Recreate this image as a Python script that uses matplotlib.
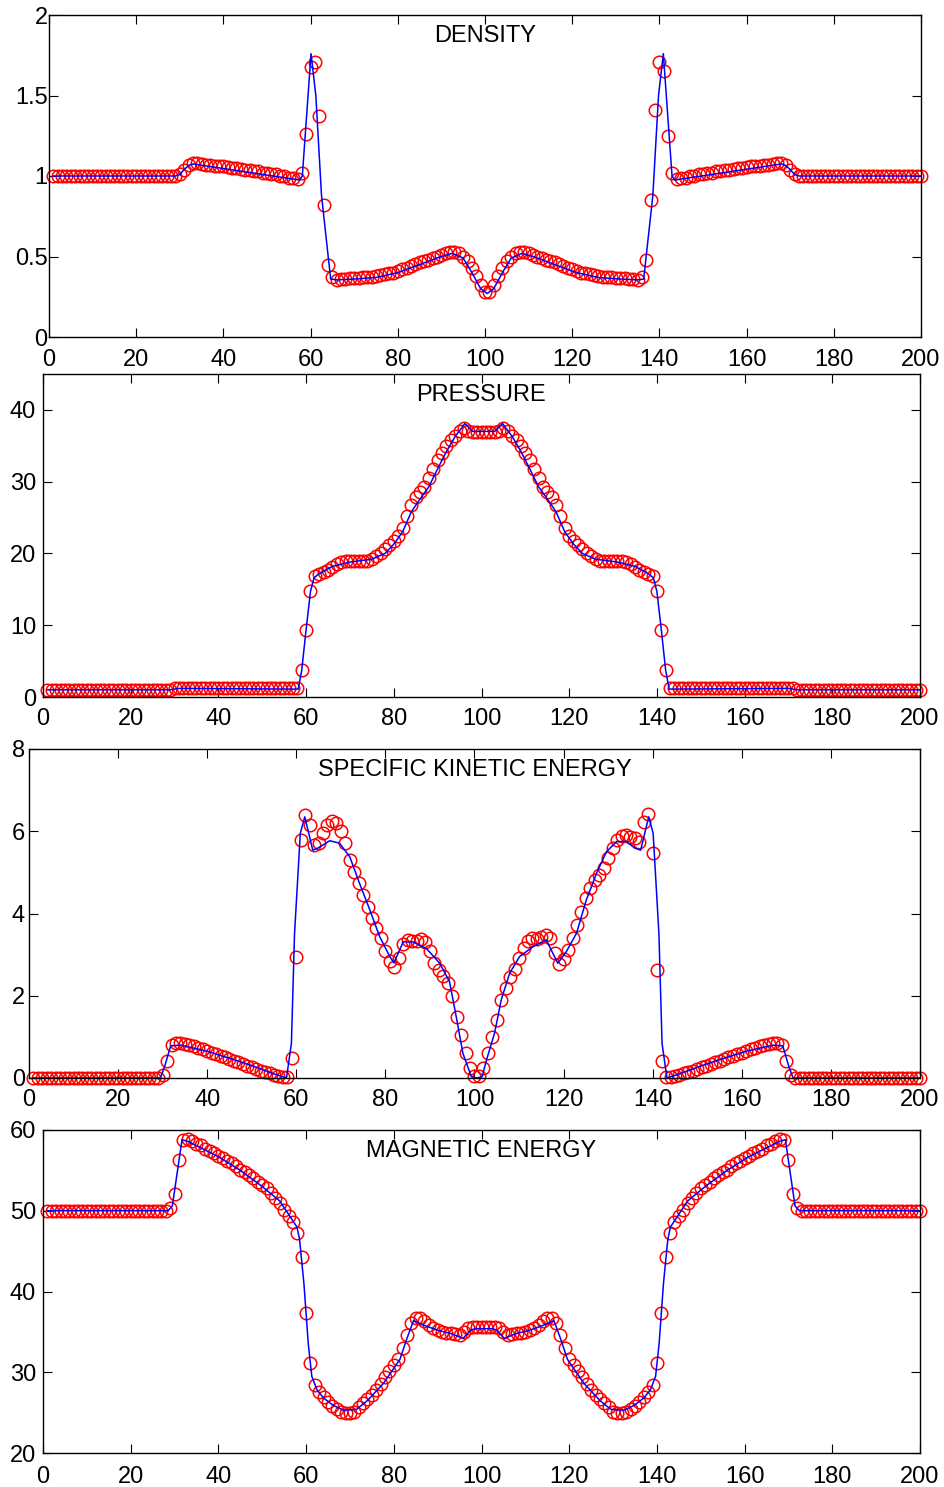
import numpy as np
import matplotlib
matplotlib.use('Agg')
import matplotlib.pyplot as plt

plt.rcParams['font.family'] = ['Liberation Sans', 'DejaVu Sans']

# grid index of the sampled solution (red circles)
x = np.arange(1, 201)

# DENSITY
density = ([1.00] * 29 +
           [1.01, 1.04, 1.07, 1.08, 1.08, 1.075, 1.07, 1.07, 1.065, 1.06,
            1.06, 1.055, 1.05, 1.05, 1.045, 1.04, 1.035, 1.03, 1.03, 1.02,
            1.02, 1.015, 1.01, 1.00, 1.00, 0.99, 0.985, 0.98,
            1.02, 1.26, 1.68, 1.71, 1.37, 0.82, 0.45, 0.37,
            0.355, 0.36, 0.36, 0.365, 0.365, 0.365, 0.37, 0.37, 0.375, 0.38,
            0.385, 0.39, 0.395, 0.40, 0.41, 0.42, 0.43, 0.44, 0.455, 0.465,
            0.47, 0.48, 0.49, 0.50, 0.51, 0.52, 0.525, 0.53, 0.52, 0.50,
            0.47, 0.43, 0.38, 0.32, 0.28,
            0.28, 0.32, 0.38, 0.43, 0.47, 0.50, 0.52, 0.53, 0.525, 0.52,
            0.51, 0.50, 0.49, 0.48, 0.47, 0.465, 0.455, 0.44, 0.43, 0.42,
            0.41, 0.40, 0.395, 0.39, 0.385, 0.38, 0.375, 0.37, 0.37, 0.365,
            0.365, 0.365, 0.36, 0.36, 0.355,
            0.37, 0.48, 0.85, 1.41, 1.71, 1.65, 1.25, 1.02,
            0.98, 0.985, 0.99, 1.00, 1.00, 1.01, 1.015, 1.02, 1.02, 1.03,
            1.03, 1.035, 1.04, 1.045, 1.05, 1.05, 1.055, 1.06, 1.06, 1.065,
            1.07, 1.07, 1.075, 1.08, 1.08, 1.07, 1.04, 1.01] +
           [1.00] * 29)
density_ref_x = [1, 29, 30, 31, 32, 33, 57.5, 58.1, 60.1, 61.2,
                 62.5, 64.6, 66, 70, 75, 80, 85, 90, 92.5, 95,
                 97, 99, 100.5, 102, 104, 106, 108.5, 111, 116, 121,
                 126, 131, 135, 136.4, 138.5, 139.8, 140.9, 142.9, 143.5, 168,
                 169, 170, 171, 172, 200]
density_ref_y = [1.0, 1.0, 1.01, 1.04, 1.065, 1.075, 0.975, 1.0, 1.76, 1.5,
                 0.88, 0.36, 0.355, 0.36, 0.37, 0.40, 0.45, 0.50, 0.52, 0.49,
                 0.40, 0.30, 0.27, 0.30, 0.40, 0.49, 0.52, 0.50, 0.45, 0.40,
                 0.37, 0.36, 0.355, 0.36, 0.88, 1.5, 1.76, 1.0, 0.975, 1.075,
                 1.065, 1.04, 1.01, 1.0, 1.0]

# PRESSURE
pressure = ([1.0] * 29 + [1.2] * 29 +
            [3.7, 9.4, 14.7, 16.8, 17.1, 17.4, 17.7, 18.1, 18.5, 18.8,
             18.9, 19.0, 19.0, 18.9, 18.9, 19.0, 19.2, 19.6, 20.1, 20.6,
             21.2, 21.7, 22.5, 23.6, 25.2, 26.7, 27.8, 28.5, 29.3, 30.5,
             31.8, 33.0, 34.0, 35.0, 35.8, 36.4, 37.0, 37.5, 37.1, 36.9,
             36.9, 36.9,
             36.9, 36.9, 36.9, 37.1, 37.5, 37.0, 36.4, 35.8, 35.0, 34.0,
             33.0, 31.8, 30.5, 29.3, 28.5, 27.8, 26.7, 25.2, 23.6, 22.5,
             21.7, 21.2, 20.6, 20.1, 19.6, 19.2, 19.0, 18.9, 18.9, 19.0,
             19.0, 18.9, 18.8, 18.5, 18.1, 17.7, 17.4, 17.1, 16.8, 14.7,
             9.4, 3.7] +
            [1.2] * 29 + [1.0] * 29)
pressure_ref_x = [1, 29, 31, 58.2, 59, 60, 61, 61.8, 63, 66,
                  70, 75, 78, 80, 82, 84, 86, 88, 90, 92,
                  94, 96.2, 98, 103, 104.8, 107, 109, 111, 113, 115,
                  117, 119, 121, 123, 126, 131, 135, 138, 139.2, 140,
                  141, 142, 142.8, 170, 172, 200]
pressure_ref_y = [1.0, 1.0, 1.2, 1.1, 3.7, 9.4, 14.7, 16.6, 17.2, 18.2,
                  18.8, 19.2, 20.0, 21.3, 23.0, 25.8, 27.6, 29.3, 31.8, 34.2,
                  36.3, 38.1, 37.0, 37.0, 38.1, 36.3, 34.2, 31.8, 29.3, 27.6,
                  25.8, 23.0, 21.3, 20.0, 19.2, 18.8, 18.2, 17.2, 16.6, 14.7,
                  9.4, 3.7, 1.1, 1.2, 1.0, 1.0]

# SPECIFIC KINETIC ENERGY
kinetic = ([0.0] * 29 +
           [0.07, 0.42, 0.80, 0.86, 0.85, 0.83, 0.80, 0.77, 0.74, 0.70,
            0.66, 0.62, 0.58, 0.54, 0.50, 0.46, 0.42, 0.38, 0.34, 0.30,
            0.26, 0.22, 0.18, 0.14, 0.11, 0.07, 0.04, 0.02, 0.02,
            0.48, 2.95, 5.79, 6.40, 6.15, 5.67, 5.71, 5.95, 6.15, 6.24,
            6.20, 6.00, 5.71, 5.30, 5.02, 4.73, 4.45, 4.17, 3.89, 3.64,
            3.40, 3.08, 2.85, 2.71, 2.91, 3.26, 3.36, 3.32, 3.32, 3.38,
            3.30, 3.10, 2.80, 2.63, 2.47, 2.30, 1.99, 1.49, 1.05, 0.60,
            0.25, 0.05,
            0.05, 0.24, 0.60, 0.99, 1.41, 1.90, 2.20, 2.45, 2.65, 2.91,
            3.15, 3.33, 3.40, 3.38, 3.44, 3.48, 3.40, 3.03, 2.77, 2.90,
            3.11, 3.40, 3.72, 4.04, 4.37, 4.61, 4.81, 4.94, 5.10, 5.35,
            5.60, 5.79, 5.88, 5.91, 5.87, 5.83, 5.75, 6.23, 6.42, 5.48,
            2.63, 0.42,
            0.02, 0.02, 0.04, 0.07, 0.11, 0.14, 0.18, 0.22, 0.26, 0.30,
            0.34, 0.38, 0.42, 0.46, 0.50, 0.54, 0.58, 0.62, 0.66, 0.70,
            0.74, 0.77, 0.80, 0.83, 0.85, 0.86, 0.80, 0.42, 0.07] +
           [0.0] * 29)
kinetic_ref_x = [1, 29.5, 30.5, 31.8, 34, 40, 45, 50, 55, 57.8,
                 58.9, 59.6, 60.9, 61.9, 63.7, 65, 67.5, 69.7, 72, 74.2,
                 76.5, 78.7, 81, 81.9, 84, 86.2, 89.2, 92.2, 94.4, 95.9,
                 97.4, 99.3, 100.5, 101.7, 102.7, 104.5, 106, 107.9, 110.1, 113.1,
                 116.1, 118.7, 120.6, 122.9, 125.1, 127.4, 129.6, 131.9, 134.1, 136,
                 137.3, 139.1, 140.1, 141.4, 142.1, 143.2, 146, 151, 156, 161,
                 167, 169.2, 170.5, 171.5, 200]
kinetic_ref_y = [0, 0, 0.3, 0.78, 0.80, 0.65, 0.48, 0.30, 0.10, 0.0,
                 0.84, 3.5, 5.95, 6.35, 5.54, 5.6, 5.77, 5.71, 5.38, 4.73,
                 4.09, 3.44, 2.95, 2.80, 3.31, 3.31, 3.15, 2.79, 2.34, 1.49,
                 0.60, 0.03, 0.0, 0.03, 0.44, 1.09, 1.90, 2.55, 2.95, 3.19,
                 3.36, 2.79, 3.07, 3.52, 4.33, 4.98, 5.50, 5.75, 5.75, 5.59,
                 5.54, 6.35, 5.95, 3.5, 0.84, 0.0, 0.10, 0.30, 0.48, 0.65,
                 0.80, 0.78, 0.3, 0.0, 0.0]

# MAGNETIC ENERGY
magnetic = ([50.0] * 28 +
            [50.3, 52.1, 56.3, 58.7, 58.85, 58.6, 58.3, 58.1, 57.7, 57.4,
             57.1, 56.8, 56.5, 56.2, 55.9, 55.5, 55.1, 54.8, 54.4, 54.0,
             53.6, 53.2, 52.8, 52.2, 51.6, 50.9, 50.1, 49.4, 48.6, 47.3,
             44.3, 37.3, 31.1,
             28.4, 27.5, 26.9, 26.3, 25.8, 25.4, 25.1, 24.9, 24.9, 25.1,
             25.7, 26.2, 26.7, 27.2, 27.8, 28.5, 29.4, 30.2, 30.9, 31.7,
             33.0, 34.6, 36.1, 36.7, 36.7, 36.3, 35.9, 35.5, 35.2, 35.0,
             34.9, 34.8, 34.7, 34.6, 35.0, 35.5, 35.6, 35.6, 35.6,
             35.6, 35.6, 35.6, 35.5, 35.0, 34.6, 34.7, 34.8, 34.9, 35.0,
             35.2, 35.5, 35.9, 36.3, 36.7, 36.7, 36.1, 34.6, 33.0, 31.7,
             30.9, 30.2, 29.4, 28.5, 27.8, 27.2, 26.7, 26.2, 25.7, 25.1,
             24.9, 24.9, 25.1, 25.4, 25.8, 26.3, 26.9, 27.5, 28.4, 31.1,
             37.3, 44.3, 47.3,
             48.6, 49.4, 50.1, 50.9, 51.6, 52.2, 52.8, 53.2, 53.6, 54.0,
             54.4, 54.8, 55.1, 55.5, 55.9, 56.2, 56.5, 56.8, 57.1, 57.4,
             57.7, 58.1, 58.3, 58.6, 58.85, 58.7, 56.3, 52.1, 50.3] +
            [50.0] * 28)
magnetic_ref_x = [1, 28.5, 29.5, 31.7, 33, 40, 45, 50, 54, 57.9,
                  58.5, 59.5, 60.5, 61.3, 62.5, 64, 66.2, 68.5, 71.5, 74,
                  77.6, 81.4, 83, 84.5, 87, 90, 93, 95.8, 97.5, 98.5,
                  102.5, 103.5, 105.2, 108, 111, 114, 116.5, 118, 119.6, 123.4,
                  127, 129.5, 132.5, 134.8, 137, 138.5, 139.7, 140.5, 141.5, 142.5,
                  143.1, 147, 151, 156, 161, 168, 169.3, 171.5, 172.5, 200]
magnetic_ref_y = [50, 50, 50.6, 58.8, 58.6, 56.7, 55.0, 53.0, 51.2, 48.0,
                  46.5, 41.0, 33.5, 29.5, 27.8, 26.8, 25.9, 25.3, 25.4, 26.5,
                  28.6, 31.6, 34.2, 36.4, 35.8, 35.2, 34.8, 34.2, 35.2, 35.4,
                  35.4, 35.2, 34.2, 34.8, 35.2, 35.8, 36.4, 34.2, 31.6, 28.6,
                  26.5, 25.4, 25.3, 25.9, 26.8, 27.8, 29.5, 33.5, 41.0, 46.5,
                  48.0, 51.2, 53.0, 55.0, 56.7, 58.6, 58.8, 50.6, 50, 50]

for series in (density, pressure, kinetic, magnetic):
    assert len(series) == 200, len(series)

fig = plt.figure(figsize=(9.45, 14.87), dpi=100)


def draw_panel(rect, values, ref_x, ref_y, ylim, yticks, ylabels, title, xpad, ypad):
    ax = fig.add_axes(rect)
    ax.plot(x, values, 'o', mfc='none', mec='r', ms=9, mew=1.1, clip_on=False)
    ax.plot(ref_x, ref_y, 'b-', lw=1.1, zorder=3)
    ax.set_xlim(0, 200)
    ax.set_ylim(*ylim)
    ax.set_xticks(range(0, 201, 20))
    ax.set_yticks(yticks)
    ax.set_yticklabels(ylabels)
    ax.tick_params(direction='in', top=True, right=True, length=6.5, width=0.8,
                   labelsize=17)
    ax.tick_params(axis='x', pad=xpad)
    ax.tick_params(axis='y', pad=ypad)
    for s in ax.spines.values():
        s.set_linewidth(1.0)
    ax.text(0.5, 0.936, title, transform=ax.transAxes, ha='center', va='center',
            fontsize=17)
    return ax


W, H = 945.0, 1487.0


def rect(left, right, top, bottom):
    return [left / W, 1 - bottom / H, (right - left) / W, (bottom - top) / H]


draw_panel(rect(49, 921, 15, 337), density, density_ref_x, density_ref_y,
           (0, 2), [0, 0.5, 1, 1.5, 2], ['0', '0.5', '1', '1.5', '2'],
           'DENSITY', 8.5, 1)
draw_panel(rect(43, 920, 374, 697), pressure, pressure_ref_x, pressure_ref_y,
           (0, 45), [0, 10, 20, 30, 40], ['0', '10', '20', '30', '40'],
           'PRESSURE', 8, 5)
draw_panel(rect(29, 920, 749, 1078), kinetic, kinetic_ref_x, kinetic_ref_y,
           (0, 8), [0, 2, 4, 6, 8], ['0', '2', '4', '6', '8'],
           'SPECIFIC KINETIC ENERGY', 8, 3)
draw_panel(rect(43, 920, 1130, 1453), magnetic, magnetic_ref_x, magnetic_ref_y,
           (20, 60), [20, 30, 40, 50, 60], ['20', '30', '40', '50', '60'],
           'MAGNETIC ENERGY', 9.5, 5)

plt.savefig('out.png', dpi=100)
